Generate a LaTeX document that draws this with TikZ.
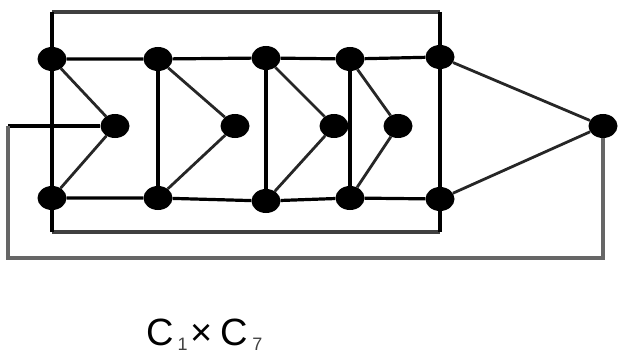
\documentclass[tikz,border=0pt]{standalone}
\usepackage{fontspec}
\setmainfont{Liberation Sans}
\usetikzlibrary{shapes.geometric}
\tikzset{
	vtx/.style={ellipse, fill=black, minimum width=29pt, minimum height=24pt, inner sep=0pt},
	rung/.style={line width=3.2pt},
	spoke/.style={line width=2.8pt, black!85},
	loopline/.style={line width=3.8pt, black!60}
}
\newcommand{\lowsub}[1]{\hspace{4pt}\raisebox{-5pt}{\fontsize{18}{18}\selectfont\color{black!75}#1}\hspace{3pt}}

\begin{document}
\begin{tikzpicture}[x=1pt,y=-1pt]
        \useasboundingbox (0,0) rectangle (619,353);
        % vertices
        \node[vtx] (t1) at (52,59) {};
        \node[vtx] (t2) at (158,59) {};
        \node[vtx] (t3) at (266,58) {};
        \node[vtx] (t4) at (350,59) {};
        \node[vtx] (t5) at (440,57) {};
        \node[vtx] (m1) at (115,126) {};
        \node[vtx] (m2) at (235,126) {};
        \node[vtx] (m3) at (334,126) {};
        \node[vtx] (m4) at (398,126) {};
        \node[vtx] (m5) at (603,126) {};
        \node[vtx] (b1) at (52,198) {};
        \node[vtx] (b2) at (158,198) {};
        \node[vtx] (b3) at (266,201) {};
        \node[vtx] (b4) at (350,198) {};
        \node[vtx] (b5) at (440,199) {};
        % corners of the frame and the outer loop
        \coordinate (r1) at (52,12);
        \coordinate (r2) at (440,12);
        \coordinate (r3) at (440,232);
        \coordinate (r4) at (52,232);
        \coordinate (c1) at (8,126);
        \coordinate (c2) at (8,258);
        \coordinate (c3) at (603,258);
        % frame
        \draw [rung, black!75] (r4) -- (r3);
        \draw [rung, black!75] (r1) -- (r2);
        \draw [rung] (r1) -- (r4);
        \draw [rung] (r2) -- (r3);
        % rows and rungs
        \draw [rung] (t1) -- (t2) -- (t3) -- (t4) -- (t5);
        \draw [rung] (b1) -- (b2) -- (b3) -- (b4) -- (b5);
        \draw [rung] (t2) -- (b2);
        \draw [rung] (t3) -- (b3);
        \draw [rung] (t4) -- (b4);
        % spokes
        \draw [spoke] (t1) -- (m1) -- (b1);
        \draw [spoke] (t2) -- (m2) -- (b2);
        \draw [spoke] (t3) -- (m3) -- (b3);
        \draw [spoke] (t4) -- (m4) -- (b4);
        \draw [spoke] (t5) -- (m5) -- (b5);
        % outer loop
        \draw [rung] (m1) -- (c1);
        \draw [loopline] (c1) -- (c2) -- (c3) -- (m5);
        % label
        \node[anchor=base west, inner sep=0pt, font=\fontsize{38}{38}\selectfont] (prod) at (146,345) {C\lowsub{1}×\hspace{8pt}C\lowsub{7}};
    \end{tikzpicture}
\end{document}
